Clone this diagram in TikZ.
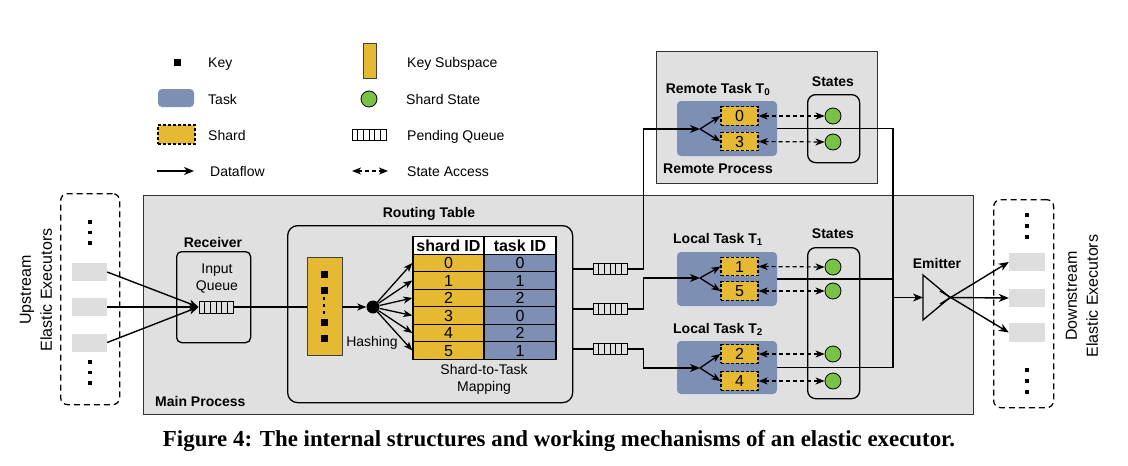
\documentclass[tikz,border=0pt]{standalone}
\usepackage{fontspec}
\setmainfont{Liberation Sans}
\newfontfamily\capfont{Liberation Serif}
\usetikzlibrary{arrows.meta,calc}
\definecolor{shardy}{RGB}{230,185,50}
\definecolor{taskb}{RGB}{126,143,180}
\definecolor{stateg}{RGB}{120,195,70}
\definecolor{bggray}{RGB}{224,224,224}
\definecolor{exgray}{RGB}{222,222,222}
\newcommand\fsA{\fontsize{14}{17}\selectfont}
\newcommand\fsB{\fontsize{16}{21}\selectfont}
\begin{document}
\begin{tikzpicture}[x=1pt,y=-1pt,
  lab/.style={font=\fsA, inner sep=0pt, text height=10pt, text depth=0pt},
  blab/.style={lab, font=\fsA\bfseries},
  mlab/.style={font=\fsA, inner sep=0pt, align=center},
  procbox/.style={draw=black!80, line width=1.3pt, fill=bggray, inner sep=0pt, anchor=north west},
  rbox/.style={draw=black, line width=1.3pt, rounded corners=6pt, inner sep=0pt, anchor=north west},
  exbox/.style={draw=black, line width=1.3pt, dash pattern=on 6pt off 4pt, rounded corners=7pt, inner sep=0pt, anchor=north west},
  exrect/.style={fill=exgray, inner sep=0pt, minimum width=35pt, minimum height=18pt},
  dotsq/.style={fill=black, inner sep=0pt, minimum size=3.5pt},
  keysq/.style={fill=black, inner sep=0pt, minimum size=7pt},
  taskbox/.style={fill=taskb, rounded corners=4pt, inner sep=0pt, minimum width=100pt},
  shard/.style={fill=shardy, draw=black, line width=1.2pt, dash pattern=on 3pt off 2pt, minimum width=37pt, minimum height=18.5pt, inner sep=0pt, font=\fontsize{16}{16}\selectfont},
  subspace/.style={fill=shardy, draw=black!75, line width=0.8pt, inner sep=0pt},
  state/.style={circle, fill=stateg, draw=black, line width=0.8pt, minimum size=16pt, inner sep=0pt},
  queue/.style={draw=black, line width=1pt, minimum width=34pt, minimum height=11.5pt, inner sep=0pt,
    path picture={\foreach \k in {1,...,5}{\draw[line width=0.9pt]
      ($(path picture bounding box.south west)!\k/6!(path picture bounding box.south east)$) --
      ($(path picture bounding box.north west)!\k/6!(path picture bounding box.north east)$);}}},
  cell/.style={draw=black, line width=1.4pt, minimum height=17.5pt, inner sep=0pt,
    font=\fontsize{16}{16}\selectfont, text height=11.5pt, text depth=0pt},
  conn/.style={draw=black, line width=1.4pt},
  flow/.style={conn, -{Stealth[length=10pt,width=8pt,inset=3pt]}},
  sflow/.style={conn, line width=1.3pt, -{Stealth[length=9pt,width=7pt,inset=2.5pt]}},
  access/.style={draw=black, line width=1.2pt, dash pattern=on 4pt off 3pt,
    {Stealth[length=9pt,width=7pt,inset=2.5pt]}-{Stealth[length=9pt,width=7pt,inset=2.5pt]}}
]
\useasboundingbox (0,0) rectangle (1128,466);

% ---------------- legend ----------------
\node[keysq] (lkey) at (177,62) {};
\node[lab, anchor=west] (lkeyt) at (208,62) {Key};
\node[taskbox, minimum width=36pt, minimum height=18pt] (ltask) at (176,98) {};
\node[lab, anchor=west] (ltaskt) at (208,99) {Task};
\node[shard, minimum width=37pt, minimum height=19pt] (lshard) at (176.5,134.5) {};
\node[lab, anchor=west] (lshardt) at (208,135) {Shard};
\coordinate (ldfa) at (157,171);
\coordinate (ldfb) at (194,171);
\draw[flow] (ldfa) -- (ldfb);
\node[lab, anchor=west] (ldft) at (210,171) {Dataflow};
\node[subspace, minimum width=13pt, minimum height=35pt] (lsub) at (369.5,61) {};
\node[lab, anchor=west] (lsubt) at (407,62) {Key Subspace};
\node[state] (lstate) at (369,99) {};
\node[lab, anchor=west] (lstatet) at (406,99) {Shard State};
\node[queue] (lq) at (369,135) {};
\node[lab, anchor=west] (lqt) at (407,135) {Pending Queue};
\coordinate (lsaa) at (352,171);
\coordinate (lsab) at (388,171);
\draw[access] (lsaa) -- (lsab);
\node[lab, anchor=west] (lsat) at (407,171) {State Access};

% ---------------- process boxes ----------------
\node[procbox, minimum width=830pt, minimum height=219pt] (main) at (143,195) {};
\node[blab, anchor=west] (maint) at (155,401) {Main Process};
\node[procbox, minimum width=221pt, minimum height=132pt] (remote) at (656,51) {};
\node[blab] (remotet) at (718,168) {Remote Process};

% ---------------- upstream ----------------
\node[exbox, minimum width=59pt, minimum height=211pt] (upbox) at (60,193) {};
\node[exrect] (up1) at (89.5,272) {};
\node[exrect] (up2) at (89.5,307) {};
\node[exrect] (up3) at (89.5,342.5) {};
\foreach \yy [count=\i] in {222,232.5,243,362,372.5,383} \node[dotsq] (ud\i) at (90,\yy) {};
\node[font=\fsB, rotate=90, align=center, inner sep=0pt] (upt) at (36,290) {Upstream\\Elastic Executors};

% ---------------- receiver ----------------
\node[rbox, rounded corners=5pt, minimum width=74pt, minimum height=91pt] (recv) at (176,251) {};
\node[blab] (recvt) at (213,242) {Receiver};
\node[mlab] (inqt) at (217,278.5) {Input\\Queue};
\node[queue, minimum height=12pt] (inq) at (216,307) {};
\draw[flow] (up1.east) -- (inq.west);
\draw[flow] (up2.east) -- (inq.west);
\draw[flow] (up3.east) -- (inq.west);

% ---------------- routing table ----------------
\node[rbox, rounded corners=10pt, minimum width=285pt, minimum height=177pt] (rt) at (287,225) {};
\node[blab] (rtt) at (429,212) {Routing Table};
\node[subspace, minimum width=35pt, minimum height=98pt] (sub) at (324.5,306.5) {};
\foreach \yy [count=\i] in {274,290,322,338} \node[keysq] (k\i) at (324,\yy) {};
\foreach \yy [count=\i] in {298.5,305.5,312.5} \node[fill=black, inner sep=0pt, minimum size=2.5pt] (kd\i) at (324,\yy) {};
\draw[conn] (inq.east) -- (inq.east -| sub.west);
\node[circle, fill=black, inner sep=0pt, minimum size=13pt] (hash) at (373,307) {};
\draw[sflow] (sub.east |- hash) -- (hash.west);
\node[lab] (hasht) at (372,341) {Hashing};

\node[cell, fill=white, minimum width=71pt, font=\fontsize{16}{16}\selectfont\bfseries] (hs) at (448.5,245.5) {shard ID};
\node[cell, fill=white, minimum width=72pt, font=\fontsize{16}{16}\selectfont\bfseries] (ht) at (520,245.5) {task ID};
\foreach \s/\t [count=\i from 0] in {0/0,1/1,2/2,3/0,4/2,5/1}{
  \node[cell, fill=shardy, minimum width=71pt] (s\i) at (448.5,263+\i*17.5) {\s};
  \node[cell, fill=taskb, minimum width=72pt] (t\i) at (520,263+\i*17.5) {\t};
}
\foreach \i in {0,...,5} \draw[sflow] (hash) -- (s\i.west);
\node[mlab] (mapt) at (484,379.5) {Shard-to-Task\\Mapping};

% ---------------- pending queues ----------------
\node[queue] (q1) at (610,269) {};
\node[queue] (q2) at (610,309) {};
\node[queue] (q3) at (610,349) {};
\draw[conn] (q1.west -| rt.east) -- (q1.west);
\draw[conn] (q2.west -| rt.east) -- (q2.west);
\draw[conn] (q3.west -| rt.east) -- (q3.west);

% ---------------- remote task ----------------
\node[taskbox, minimum height=55pt] (T0) at (727,128.5) {};
\node[blab] (T0t) at (718,88) {Remote Task T\textsubscript{0}};
\node[shard] (sh0) at (739.5,116) {0};
\node[shard] (sh3) at (739.5,141.5) {3};
\node[rbox, rounded corners=8pt, minimum width=52pt, minimum height=68pt] (rst) at (807,94) {};
\node[blab] (rstt) at (833,81) {States};
\node[state] (st0) at (833,116) {};
\node[state] (st3) at (833,142) {};
\draw[access] (sh0.east) -- (st0.west);
\draw[access] (sh3.east) -- (st3.west);

% ---------------- local tasks ----------------
\node[taskbox, minimum height=54pt] (T1) at (727,279) {};
\node[blab] (T1t) at (718,238) {Local Task T\textsubscript{1}};
\node[shard] (sh1) at (739.5,266.5) {1};
\node[shard] (sh5) at (739.5,291) {5};
\node[taskbox, minimum height=53pt] (T2) at (727,367.5) {};
\node[blab] (T2t) at (718,328) {Local Task T\textsubscript{2}};
\node[shard] (sh2) at (739.5,354) {2};
\node[shard] (sh4) at (739.5,381) {4};
\node[rbox, rounded corners=8pt, minimum width=52pt, minimum height=151pt] (lst) at (807,247) {};
\node[blab] (lstt) at (833,233) {States};
\node[state] (st1) at (833,267) {};
\node[state] (st5) at (833,291) {};
\node[state] (st2) at (833,354) {};
\node[state] (st4) at (833,381) {};
\draw[access] (sh1.east) -- (st1.west);
\draw[access] (sh5.east) -- (st5.west);
\draw[access] (sh2.east) -- (st2.west);
\draw[access] (sh4.east) -- (st4.west);

% ---------------- dataflow to tasks ----------------
\coordinate (f0) at (700,129);
\coordinate (f1) at (700,278);
\coordinate (f2) at (700,368);
\draw[flow] (q1.east) -- ++(16,0) |- (f0);
\draw[flow] (q2.east) -- ++(16,0) |- (f1);
\draw[flow] (q3.east) -- ++(16,0) |- (f2);
\draw[sflow] (f0) -- (sh0.west);
\draw[sflow] (f0) -- (sh3.west);
\draw[sflow] (f1) -- (sh1.west);
\draw[sflow] (f1) -- (sh5.west);
\draw[sflow] (f2) -- (sh2.west);
\draw[sflow] (f2) -- (sh4.west);

% ---------------- outputs to emitter ----------------
\coordinate (jb) at (893,367.5);
\coordinate (ein) at (923,297.5);
\coordinate (ea) at (950,297.5);
\coordinate (eb1) at (923,275);
\coordinate (eb2) at (923,320);
\draw[conn] (T0.east) -| (jb);
\draw[conn] (T1.east) -- (T1.east -| jb);
\draw[conn] (T2.east) -- (jb);
\draw[flow] (ein -| jb) -- (ein);
\draw[draw=black, line width=1.3pt, line join=miter] (eb1) -- (ea) -- (eb2) -- cycle;
\node[blab] (emitt) at (937,263) {Emitter};

% ---------------- downstream ----------------
\node[exbox, minimum width=60pt, minimum height=208pt] (dnbox) at (993,199) {};
\node[exrect, minimum width=36pt] (dn1) at (1027,262) {};
\node[exrect, minimum width=36pt] (dn2) at (1027,298) {};
\node[exrect, minimum width=36pt, minimum height=19pt] (dn3) at (1027,332.5) {};
\foreach \yy [count=\i] in {215,226,237,370,381,392} \node[dotsq] (dd\i) at (1027,\yy) {};
\coordinate (eo1) at (940,304);
\coordinate (eo3) at (940,291);
\draw[flow] (eo1) -- (dn1.west);
\draw[flow] (ea) -- (dn2.west);
\draw[flow] (eo3) -- (dn3.west);
\node[font=\fsB, rotate=90, align=center, inner sep=0pt] (dnt) at (1082,296) {Downstream\\Elastic Executors};

% ---------------- caption ----------------
\node[inner sep=0pt] (cap) at (559,441) {\resizebox{792pt}{!}{\capfont\bfseries\fontsize{18}{20}\selectfont Figure 4: The internal structures and working mechanisms of an elastic executor.}};
\end{tikzpicture}
\end{document}
